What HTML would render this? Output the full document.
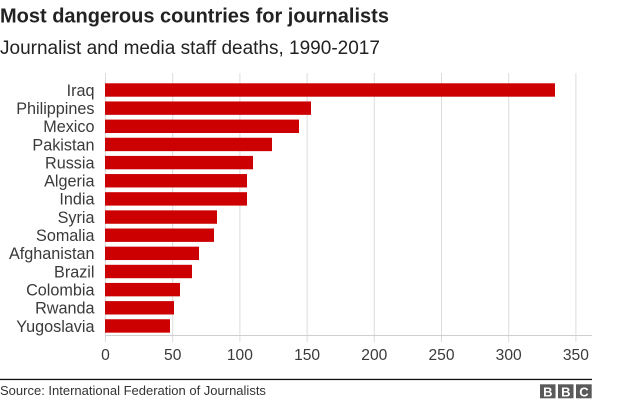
<!DOCTYPE html>
<html>
<head>
<meta charset="utf-8">
<style>
html,body{margin:0;padding:0;background:#fff;}
body{width:624px;height:403px;overflow:hidden;}
svg{display:block;font-family:"Liberation Sans",Arial,sans-serif;}
</style>
</head>
<body>
<svg width="624" height="403" viewBox="0 0 624 403" xmlns="http://www.w3.org/2000/svg">
  <text x="0" y="22.5" font-size="20" font-weight="bold" fill="#222">Most dangerous countries for journalists</text>
  <text x="0" y="54" font-size="19" fill="#222">Journalist and media staff deaths, 1990-2017</text>

  <!-- gridlines -->
  <g stroke="#dcdcdc" stroke-width="1">
    <line x1="105.5" y1="73" x2="105.5" y2="342"/>
    <line x1="172.7" y1="73" x2="172.7" y2="342"/>
    <line x1="239.9" y1="73" x2="239.9" y2="342"/>
    <line x1="307.1" y1="73" x2="307.1" y2="342"/>
    <line x1="374.3" y1="73" x2="374.3" y2="342"/>
    <line x1="441.5" y1="73" x2="441.5" y2="342"/>
    <line x1="508.7" y1="73" x2="508.7" y2="342"/>
    <line x1="575.9" y1="73" x2="575.9" y2="342"/>
  </g>
  <line x1="105" y1="335.5" x2="592" y2="335.5" stroke="#cfcfcf" stroke-width="1"/>

  <!-- bars -->
  <g fill="#cc0000">
    <rect x="105" y="83.3" width="450" height="13.4"/>
    <rect x="105" y="101.45" width="206" height="13.4"/>
    <rect x="105" y="119.6" width="194" height="13.4"/>
    <rect x="105" y="137.75" width="167" height="13.4"/>
    <rect x="105" y="155.9" width="148" height="13.4"/>
    <rect x="105" y="174.05" width="142" height="13.4"/>
    <rect x="105" y="192.2" width="142" height="13.4"/>
    <rect x="105" y="210.35" width="112" height="13.4"/>
    <rect x="105" y="228.5" width="109" height="13.4"/>
    <rect x="105" y="246.65" width="94" height="13.4"/>
    <rect x="105" y="264.8" width="87" height="13.4"/>
    <rect x="105" y="282.95" width="75" height="13.4"/>
    <rect x="105" y="301.1" width="69" height="13.4"/>
    <rect x="105" y="319.25" width="65" height="13.4"/>
  </g>

  <!-- category labels -->
  <g font-size="16.2" fill="#3a3a3a" text-anchor="end">
    <text x="94.5" y="95.8">Iraq</text>
    <text x="94.5" y="113.95">Philippines</text>
    <text x="94.5" y="132.1">Mexico</text>
    <text x="94.5" y="150.25">Pakistan</text>
    <text x="94.5" y="168.4">Russia</text>
    <text x="94.5" y="186.55">Algeria</text>
    <text x="94.5" y="204.7">India</text>
    <text x="94.5" y="222.85">Syria</text>
    <text x="94.5" y="241">Somalia</text>
    <text x="94.5" y="259.15">Afghanistan</text>
    <text x="94.5" y="277.3">Brazil</text>
    <text x="94.5" y="295.45">Colombia</text>
    <text x="94.5" y="313.6">Rwanda</text>
    <text x="94.5" y="331.75">Yugoslavia</text>
  </g>

  <!-- tick labels -->
  <g font-size="15.6" fill="#3a3a3a" text-anchor="middle">
    <text x="105.5" y="360">0</text>
    <text x="172.7" y="360">50</text>
    <text x="239.9" y="360">100</text>
    <text x="307.1" y="360">150</text>
    <text x="374.3" y="360">200</text>
    <text x="441.5" y="360">250</text>
    <text x="508.7" y="360">300</text>
    <text x="575.9" y="360">350</text>
  </g>

  <!-- footer -->
  <rect x="0" y="378.8" width="592" height="1.3" fill="#111"/>
  <text x="0" y="395" font-size="13" fill="#333">Source: International Federation of Journalists</text>
  <g>
    <rect x="540" y="384.3" width="15.5" height="14" fill="#5a5a5a"/>
    <rect x="558" y="384.3" width="15.5" height="14" fill="#5a5a5a"/>
    <rect x="576" y="384.3" width="15.7" height="14" fill="#5a5a5a"/>
    <g font-size="13" font-weight="bold" fill="#fff" text-anchor="middle">
      <text x="547.8" y="396.3">B</text>
      <text x="565.8" y="396.3">B</text>
      <text x="583.9" y="396.3">C</text>
    </g>
  </g>
</svg>
</body>
</html>
